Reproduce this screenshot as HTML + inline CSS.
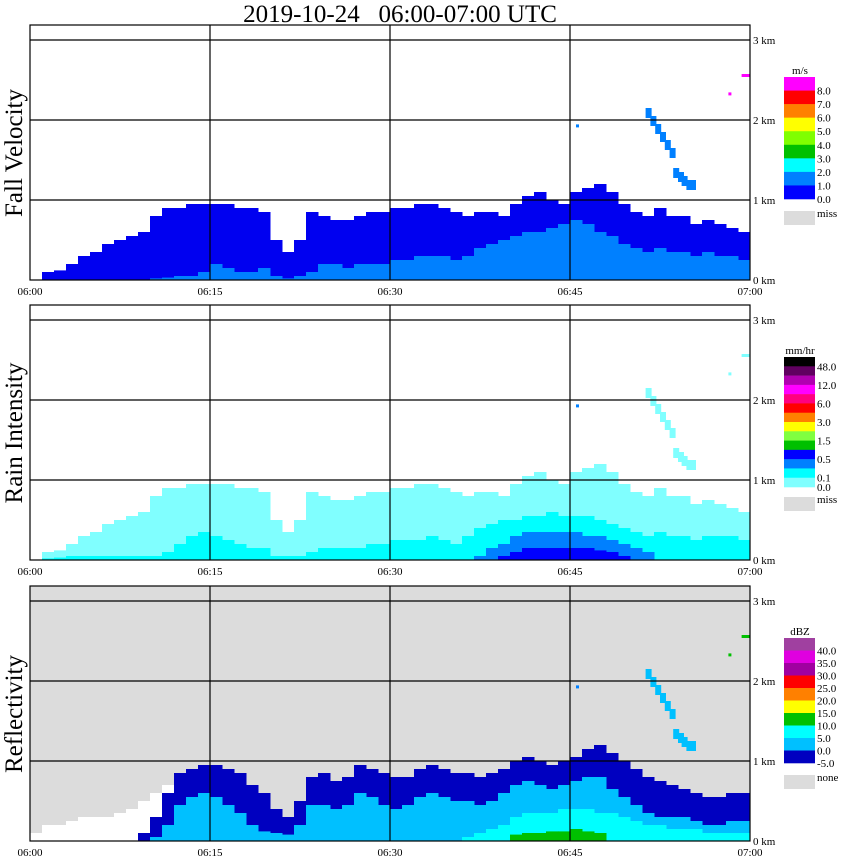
<!DOCTYPE html>
<html><head><meta charset="utf-8"><style>
body{margin:0;background:#fff;width:850px;height:868px;overflow:hidden}
svg{display:block}
text{font-family:"Liberation Serif",serif}
</style></head><body>
<svg id="chart" width="850" height="868" xmlns="http://www.w3.org/2000/svg">
<text x="400" y="22" font-size="25" text-anchor="middle" style="white-space:pre" xml:space="preserve">2019-10-24   06:00-07:00 UTC</text>
</svg>
<script>
// ---- data (per minute, km) ----
const minutes = Array.from({length:60},(_,i)=>i);
const echoTop = [0,0.1,0.12,0.2,0.3,0.35,0.45,0.5,0.55,0.6,0.8,0.9,0.9,0.95,0.95,0.95,0.95,0.9,0.9,0.85,0.5,0.35,0.5,0.85,0.8,0.75,0.75,0.8,0.85,0.85,0.9,0.9,0.95,0.95,0.9,0.85,0.8,0.85,0.85,0.8,0.95,1.05,1.1,1.0,0.95,1.1,1.15,1.2,1.1,0.95,0.85,0.8,0.9,0.8,0.8,0.7,0.75,0.7,0.65,0.6];
const velLayer2 = [0,0,0,0,0,0,0,0,0,0,0.02,0.03,0.05,0.05,0.1,0.2,0.15,0.1,0.1,0.15,0.05,0.02,0.05,0.1,0.2,0.2,0.15,0.2,0.2,0.2,0.25,0.25,0.3,0.3,0.3,0.25,0.3,0.4,0.45,0.5,0.55,0.6,0.6,0.65,0.7,0.75,0.7,0.6,0.55,0.45,0.4,0.35,0.4,0.35,0.35,0.3,0.35,0.3,0.3,0.25];
const rainCyan = [0,0.02,0.03,0.05,0.05,0.05,0.05,0.05,0.05,0.05,0.05,0.1,0.2,0.3,0.35,0.3,0.25,0.2,0.15,0.15,0.05,0.05,0.05,0.1,0.15,0.15,0.15,0.15,0.2,0.2,0.25,0.25,0.25,0.3,0.25,0.2,0.3,0.4,0.45,0.5,0.5,0.55,0.55,0.6,0.55,0.55,0.55,0.5,0.45,0.4,0.35,0.3,0.35,0.3,0.3,0.25,0.3,0.3,0.3,0.25];
const rainAzure = [0,0,0,0,0,0,0,0,0,0,0,0,0,0,0,0,0,0,0,0,0,0,0,0,0,0,0,0,0,0,0,0,0,0,0,0,0,0.05,0.15,0.2,0.3,0.35,0.35,0.35,0.35,0.35,0.3,0.3,0.25,0.2,0.15,0.1,0,0,0,0,0,0,0,0];
const rainBlue = [0,0,0,0,0,0,0,0,0,0,0,0,0,0,0,0,0,0,0,0,0,0,0,0,0,0,0,0,0,0,0,0,0,0,0,0,0,0,0,0.05,0.1,0.15,0.15,0.15,0.15,0.15,0.15,0.12,0.1,0.05,0,0,0,0,0,0,0,0,0,0];
const reflTop = [0,0,0,0,0,0,0,0,0,0.1,0.3,0.6,0.85,0.9,0.95,0.95,0.9,0.85,0.7,0.6,0.4,0.3,0.5,0.8,0.85,0.75,0.8,0.95,0.9,0.85,0.8,0.8,0.9,0.95,0.9,0.85,0.85,0.8,0.85,0.9,1.0,1.05,1.0,0.95,1.0,1.05,1.15,1.2,1.1,1.0,0.9,0.8,0.75,0.7,0.65,0.6,0.55,0.55,0.6,0.6];
const reflLight = [0,0,0,0,0,0,0,0,0,0,0.05,0.2,0.45,0.55,0.6,0.55,0.45,0.35,0.2,0.12,0.1,0.08,0.2,0.45,0.45,0.4,0.45,0.6,0.55,0.45,0.4,0.45,0.55,0.6,0.55,0.5,0.5,0.45,0.5,0.6,0.7,0.75,0.7,0.65,0.7,0.75,0.8,0.8,0.65,0.55,0.45,0.35,0.3,0.3,0.3,0.25,0.2,0.2,0.25,0.25];
const reflCyan = [0,0,0,0,0,0,0,0,0,0,0,0,0,0,0,0,0,0,0,0,0,0,0,0,0,0,0,0,0,0,0,0,0,0,0,0,0.05,0.1,0.15,0.2,0.3,0.35,0.35,0.35,0.4,0.4,0.4,0.35,0.35,0.3,0.25,0.2,0.2,0.15,0.15,0.15,0.1,0.1,0.1,0.1];
const reflGreen = [0,0,0,0,0,0,0,0,0,0,0,0,0,0,0,0,0,0,0,0,0,0,0,0,0,0,0,0,0,0,0,0,0,0,0,0,0,0,0,0,0.08,0.1,0.1,0.12,0.12,0.15,0.12,0.1,0,0,0,0,0,0,0,0,0,0,0,0];
const reflWhite = [0.1,0.2,0.2,0.25,0.3,0.3,0.3,0.35,0.4,0.5,0.6,0.7,0.5,0.2,0.1,0,0,0.3,0.5,0.45,0.3,0.2,0,0,0,0,0,0,0,0,0,0,0,0,0,0,0,0,0,0,0,0,0,0,0,0,0,0,0,0,0,0,0,0,0,0,0,0,0,0];
const streakT = [51.3,51.7,52.1,52.5,52.9,53.3,53.6,54.0,54.3,54.7,55.0];
const streakH = [2.1,2.0,1.9,1.8,1.7,1.6,1.35,1.3,1.25,1.2,1.2];
const dotT = [45.5,58.2,59.3];
const dotH = [1.92,2.32,2.55];
const xTicks = ["06:00","06:15","06:30","06:45","07:00"];
const yTicks = ["0 km","1 km","2 km","3 km"];
const velLabels = ["8.0","7.0","6.0","5.0","4.0","3.0","2.0","1.0","0.0"];
const velColors = ["#ff00ff","#ff0000","#ff8000","#ffff00","#80ff00","#00c000","#00ffff","#0080ff","#0000ff"];
const rainLabels = ["48.0","","12.0","","6.0","","3.0","","1.5","","0.5","","0.1","0.0"];
const rainColors = ["#000000","#600060","#b000b0","#ff00ff","#ff0080","#ff0000","#ff8000","#ffff00","#80ff40","#00c000","#0000ff","#0080ff","#00ffff","#80ffff"];
const reflLabels = ["40.0","35.0","30.0","25.0","20.0","15.0","10.0","5.0","0.0","-5.0"];
const reflColors = ["#a040a0","#e000e0","#a000a0","#ff0000","#ff8000","#ffff00","#00c000","#00ffff","#00c0ff","#0000c0"];

const svg=document.getElementById('chart');
const NS='http://www.w3.org/2000/svg';
const X0=30,X1=750;
const xs=m=>X0+(X1-X0)*m/60;
function mk(tag,attrs,parent){const e=document.createElementNS(NS,tag);for(const k in attrs)e.setAttribute(k,attrs[k]);(parent||svg).appendChild(e);return e;}
function panel(top,bg,name,title,layers,legendColors,legendLabels,unit,missLabel,streakColor,dotColor){
  const base=top+255, ys=h=>base-h*80;
  const g=mk('g',{});
  
  
  mk('rect',{x:X0,y:top,width:X1-X0,height:255,fill:bg},g);
  layers.forEach(L=>{
    L.data.forEach((h,i)=>{ if(h<=0)return;
      const r=mk('rect',{x:xs(minutes[i]),y:ys(h),width:xs(1)-xs(0)+0.5,height:h*80,fill:L.color},g);
      
      
    });
  });
  streakT.forEach((t,i)=>{const r=mk('rect',{x:xs(t),y:ys(streakH[i])-4,width:6,height:10,fill:streakColor},g);
    });
  dotT.forEach((t,i)=>{const r=mk('rect',{x:xs(t),y:ys(dotH[i])-2,width:i==2?8:3,height:3,fill:i==0?'#0080ff':dotColor},g);
    });
  [1,2,3].forEach(k=>mk('line',{x1:X0,x2:X1,y1:ys(k),y2:ys(k),stroke:'#000','stroke-width':1.2},g));
  [1,2,3].forEach(k=>mk('line',{x1:xs(k*15),x2:xs(k*15),y1:top,y2:base,stroke:'#000','stroke-width':1.2},g));
  mk('rect',{x:X0,y:top,width:X1-X0,height:255,fill:'none',stroke:'#000','stroke-width':1.2},g);
  xTicks.forEach((t,i)=>{const e=mk('text',{x:xs(i*15),y:base+15,'font-size':11,'text-anchor':'middle'},g);e.textContent=t;
    });
  yTicks.forEach((t,i)=>{const e=mk('text',{x:753,y:ys(i)+4,'font-size':11},g);e.textContent=t;
    });
  const tt=mk('text',{x:0,y:0,'font-size':25,'text-anchor':'middle',transform:`translate(22,${top+128}) rotate(-90)`},g);tt.textContent=title;
  
  const lg=mk('g',{},g);
  
  const lt=top+52, lh=(top===25?122:(top===305?130:125)), n=legendColors.length, sh=lh/n;
  const u=mk('text',{x:800,y:lt-3,'font-size':11,'text-anchor':'middle'},lg);u.textContent=unit;
  legendColors.forEach((c,i)=>{mk('rect',{x:784,y:lt+i*sh,width:31,height:sh+0.3,fill:c},lg);
    if(legendLabels[i]){const e=mk('text',{x:817,y:lt+(i+1)*sh+4,'font-size':11},lg);e.textContent=legendLabels[i];
    }});
  const mt=lt+lh+(top===305?10:12);
  mk('rect',{x:784,y:mt,width:31,height:14,fill:'#dcdcdc'},lg);
  const m=mk('text',{x:817,y:mt+6,'font-size':11},lg);m.textContent=missLabel;
}
panel(25,'#ffffff','fall-velocity','Fall Velocity',[
  {data:echoTop,color:'#0000f0'},{data:velLayer2,color:'#0080ff'}],velColors,velLabels,'m/s','miss','#0080ff','#ff00ff');
panel(305,'#ffffff','rain-intensity','Rain Intensity',[
  {data:echoTop,color:'#80ffff'},{data:rainCyan,color:'#00ffff'},{data:rainAzure,color:'#0080ff'},{data:rainBlue,color:'#0000ff'}],rainColors,rainLabels,'mm/hr','miss','#80ffff','#80ffff');
panel(586,'#dcdcdc','reflectivity','Reflectivity',[
  {data:reflWhite,color:'#ffffff'},{data:reflTop,color:'#0000c0'},{data:reflLight,color:'#00c0ff'},{data:reflCyan,color:'#00ffff'},{data:reflGreen,color:'#00c000'}],reflColors,reflLabels,'dBZ','none','#00c0ff','#00c000');
</script>
</body></html>
